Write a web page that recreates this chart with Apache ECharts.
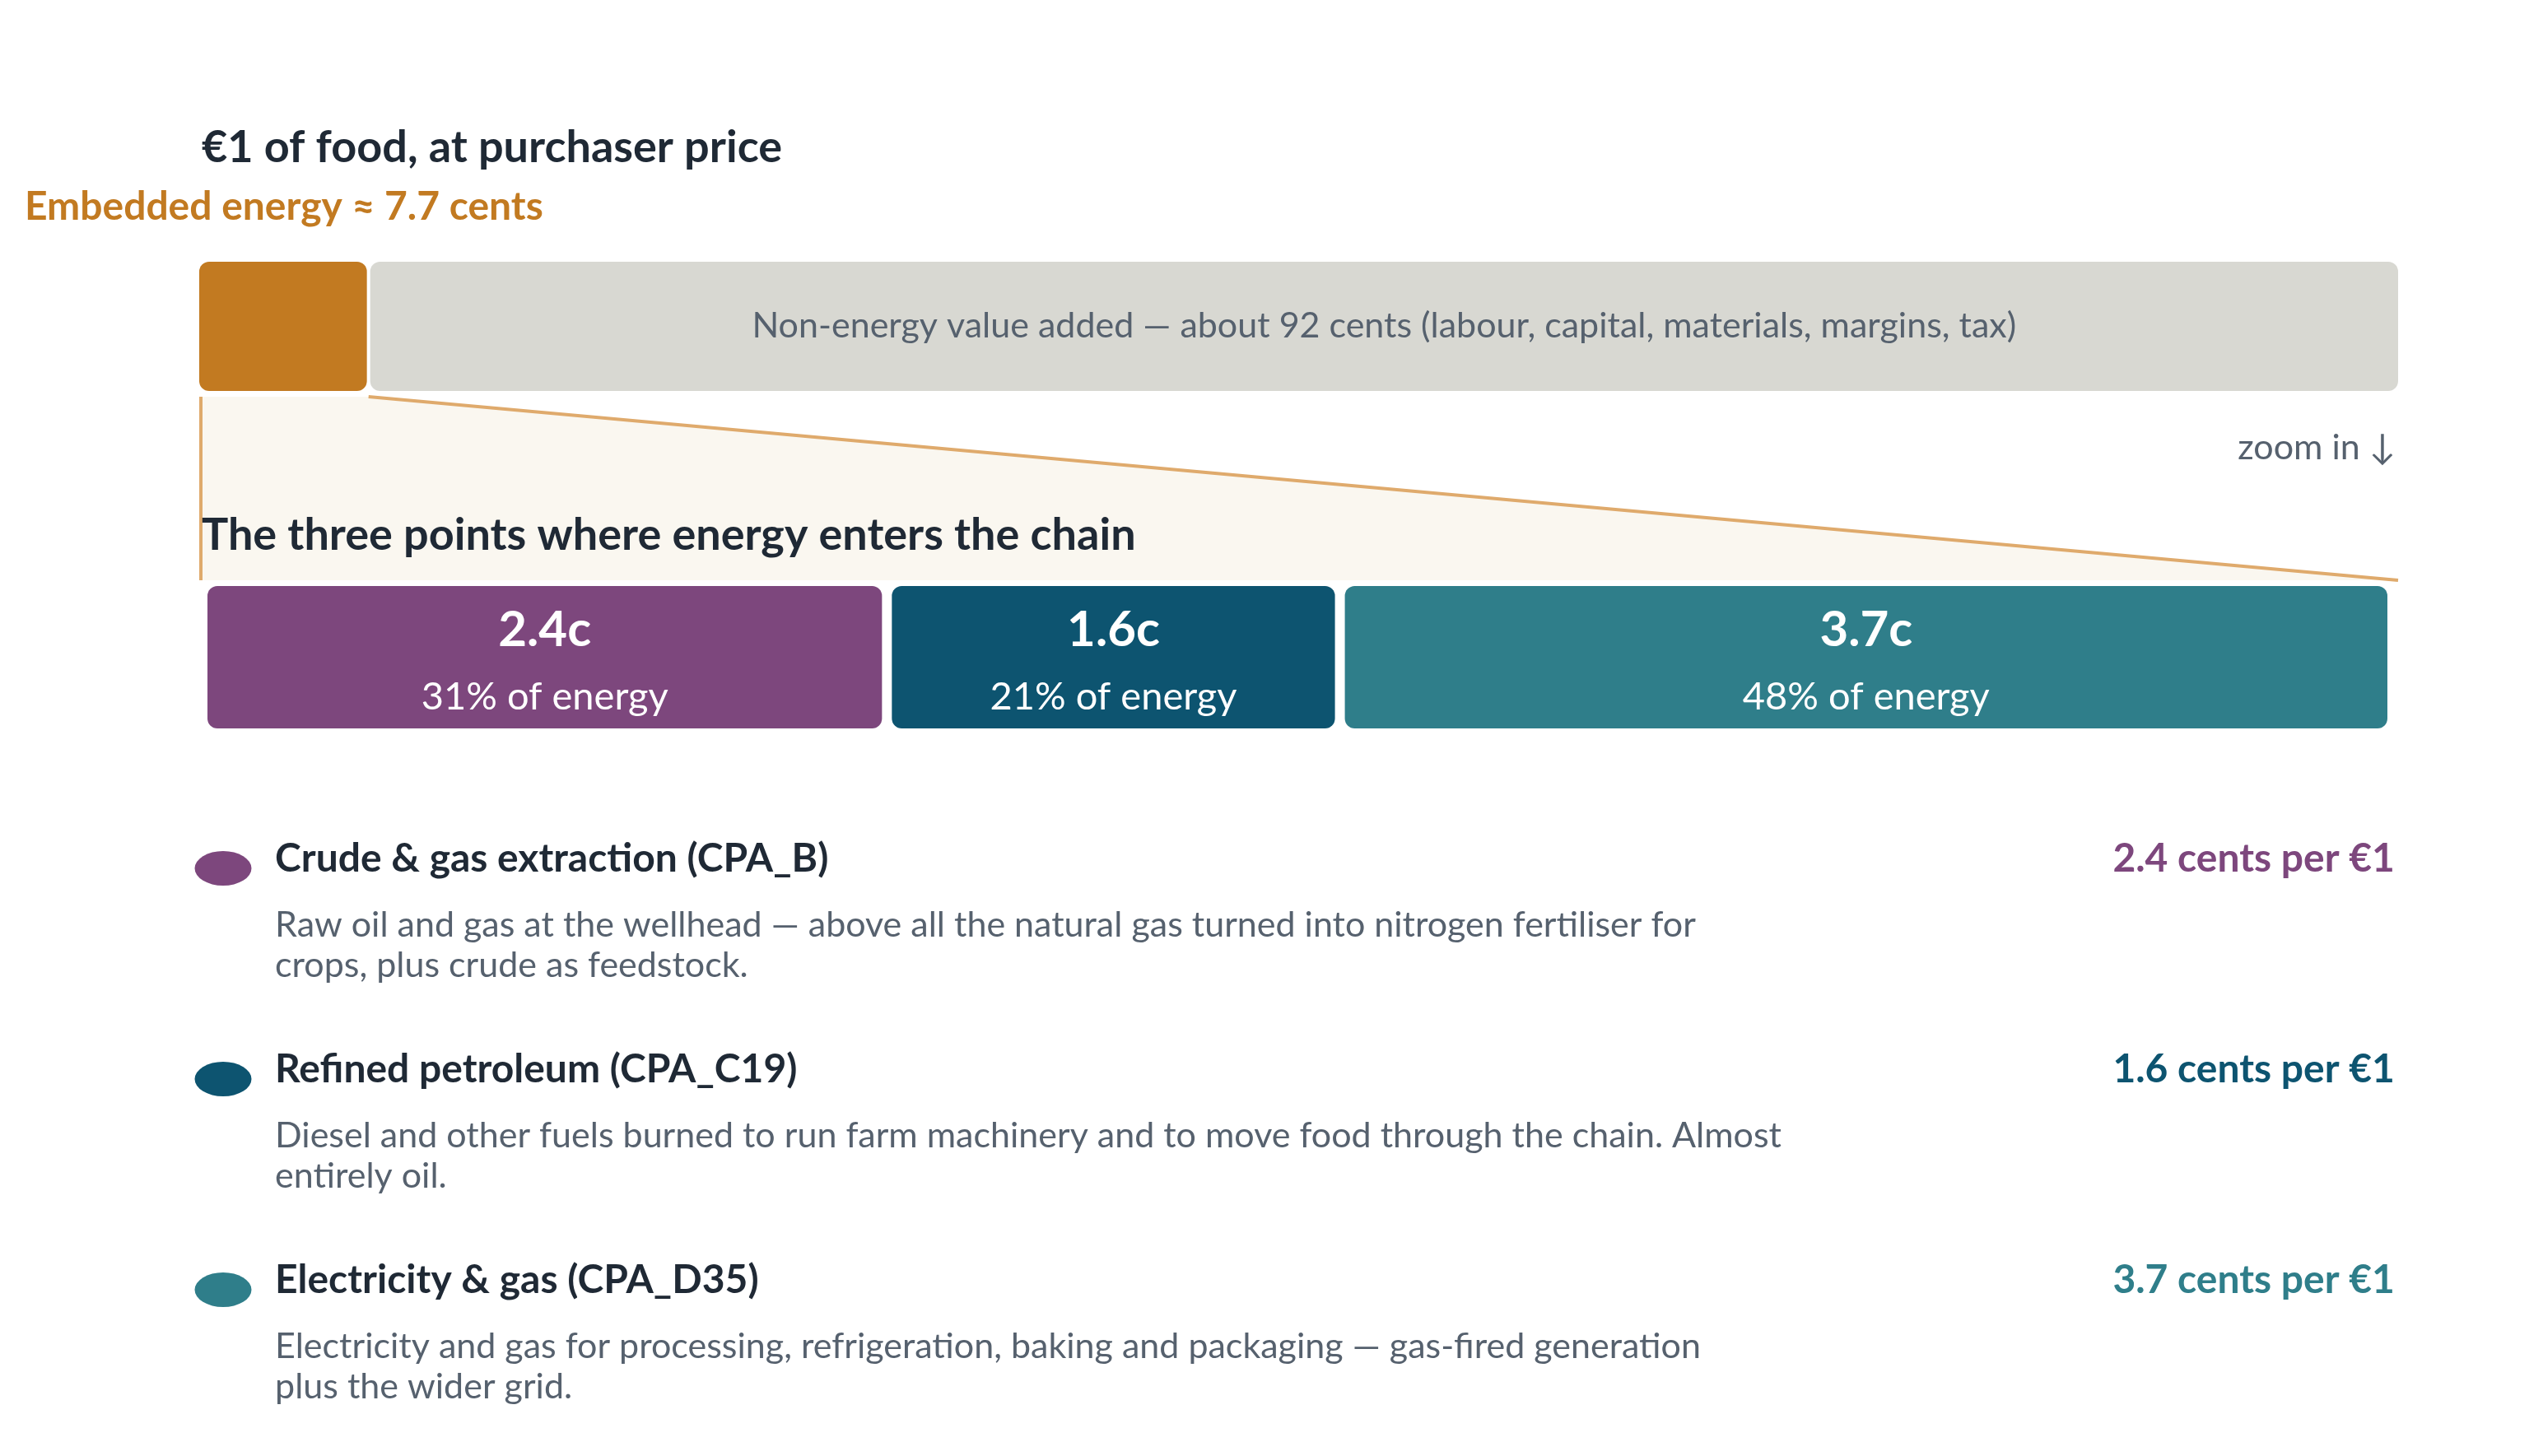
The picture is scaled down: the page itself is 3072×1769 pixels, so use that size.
<!DOCTYPE html>
<html>
<head>
<meta charset="utf-8">
<script src="https://cdn.jsdelivr.net/npm/echarts@6/dist/echarts.min.js"></script>
<style>
html, body { margin: 0; padding: 0; background: #fff; }
#main { width: 3072px; height: 1769px; }
</style>
</head>
<body>
<div id="main"></div>
<script>
// one euro of food, split into energy and everything else
var priceParts = ['Embedded energy', 'Non-energy value added'];
var priceCents = [7.7, 92.3];
var priceNotes = ['', 'Non-energy value added \u2014 about 92 cents (labour, capital, materials, margins, tax)'];

// the three energy inputs
var sourceNames = ['Crude & gas extraction (CPA_B)', 'Refined petroleum (CPA_C19)', 'Electricity & gas (CPA_D35)'];
var sourceCents = [2.4, 1.6, 3.7];
var sourceShares = [31, 21, 48];
var sourceNotes = [
    'Raw oil and gas at the wellhead \u2014 above all the natural gas turned into nitrogen fertiliser for\ncrops, plus crude as feedstock.',
    'Diesel and other fuels burned to run farm machinery and to move food through the chain. Almost\nentirely oil.',
    'Electricity and gas for processing, refrigeration, baking and packaging \u2014 gas-fired generation\nplus the wider grid.'
];

var priceColors = ['#C27A21', '#D8D8D2'];
var sourceColors = ['#7D477D', '#0D5470', '#2F7E8A'];
var FONT = 'Lato, "DejaVu Sans", sans-serif';
var DARK = '#1F2935';
var GREY = '#56616E';

function spans(values) {
    var acc = 0;
    return values.map(function (v, i) {
        var s = acc;
        acc += v;
        return [s, acc, i];
    });
}
function sum(values) {
    return values.reduce(function (a, b) { return a + b; }, 0);
}

var priceTotal = sum(priceCents);
var energyTotal = priceCents[0];

var myChart = echarts.init(document.getElementById('main'));

function renderPrice(params, api) {
    var i = api.value(2);
    var s = api.coord([api.value(0), 0]);
    var e = api.coord([api.value(1), 0]);
    var h = api.size([0, 1])[1];
    var x0 = s[0] + (i > 0 ? 2 : 0);
    var x1 = e[0] - (i < priceCents.length - 1 ? 2 : 0);
    var children = [{
        type: 'rect',
        shape: { x: x0, y: s[1] - h / 2, width: x1 - x0, height: h, r: 12 },
        style: { fill: priceColors[i] }
    }];
    if (priceNotes[i]) {
        children.push({
            type: 'text',
            style: {
                text: priceNotes[i], x: (x0 + x1) / 2, y: s[1],
                align: 'center', verticalAlign: 'middle',
                fill: GREY, fontSize: 43, fontFamily: FONT
            }
        });
    }
    return { type: 'group', children: children };
}

function renderFunnel(params, api) {
    var tl = api.coord([0, 1]);
    var tr = api.coord([api.value(0), 1]);
    var br = api.coord([priceTotal, 0]);
    var bl = api.coord([0, 0]);
    var line = { stroke: '#DFAA6C', lineWidth: 4, fill: null };
    return {
        type: 'group',
        children: [
            { type: 'polygon', shape: { points: [tl, tr, br, bl] }, style: { fill: '#FAF7F0' } },
            { type: 'polyline', shape: { points: [[tl[0] + 2, tl[1]], [bl[0] + 2, bl[1]]] }, style: line },
            { type: 'polyline', shape: { points: [tr, br] }, style: line }
        ]
    };
}

function renderSource(params, api) {
    var i = api.value(2);
    var s = api.coord([api.value(0), 0]);
    var e = api.coord([api.value(1), 0]);
    var h = api.size([0, 1])[1];
    var x0 = s[0] + (i > 0 ? 6 : 0);
    var x1 = e[0] - (i < sourceCents.length - 1 ? 6 : 0);
    var cx = (x0 + x1) / 2;
    return {
        type: 'group',
        children: [
            {
                type: 'rect',
                shape: { x: x0, y: s[1] - h / 2, width: x1 - x0, height: h, r: 12 },
                style: { fill: sourceColors[i] }
            },
            {
                type: 'text',
                style: {
                    text: sourceCents[i].toFixed(1) + 'c', x: cx, y: s[1] - 33,
                    align: 'center', verticalAlign: 'middle',
                    fill: '#fff', fontSize: 60, fontWeight: 'bold', fontFamily: FONT
                }
            },
            {
                type: 'text',
                style: {
                    text: sourceShares[i] + '% of energy', x: cx, y: s[1] + 48,
                    align: 'center', verticalAlign: 'middle',
                    fill: '#fff', fontSize: 47, fontFamily: FONT
                }
            }
        ]
    };
}

var legendPoints = sourceNames.map(function (n, i) { return [0, i]; });
var hidden = { color: 'transparent', opacity: 1 };

option = {
    backgroundColor: '#ffffff',
    animation: false,
    title: [
        {
            text: '\u20ac1 of food, at purchaser price', left: 245, top: 150, padding: 0,
            textStyle: { fontSize: 54, fontWeight: 'bold', color: DARK, fontFamily: FONT, lineHeight: 60 }
        },
        {
            text: 'Embedded energy \u2248 ' + energyTotal + ' cents', left: 30, top: 222, padding: 0,
            textStyle: { fontSize: 48, fontWeight: 'bold', color: priceColors[0], fontFamily: FONT, lineHeight: 60 }
        },
        {
            text: 'zoom in \u2193', right: 162, top: 514, padding: 0,
            textStyle: { fontSize: 43, fontWeight: 'normal', color: GREY, fontFamily: FONT, lineHeight: 60 }
        },
        {
            text: 'The three points where energy enters the chain', left: 245, top: 621, padding: 0,
            textStyle: { fontSize: 54, fontWeight: 'bold', color: DARK, fontFamily: FONT, lineHeight: 60 }
        }
    ],
    grid: [
        { left: 242, right: 159, top: 318, height: 157 },
        { left: 242, right: 159, top: 482, height: 223 },
        { left: 252, right: 172, top: 712, height: 173 },
        { left: 271, right: 163, top: 1055, height: 512 }
    ],
    xAxis: [
        { gridIndex: 0, type: 'value', min: 0, max: priceTotal, show: false },
        { gridIndex: 1, type: 'value', min: 0, max: priceTotal, show: false },
        { gridIndex: 2, type: 'value', min: 0, max: sum(sourceCents), show: false },
        { gridIndex: 3, type: 'value', min: 0, max: 1, show: false }
    ],
    yAxis: [
        { gridIndex: 0, type: 'category', data: ['food'], show: false },
        { gridIndex: 1, type: 'value', min: 0, max: 1, show: false },
        { gridIndex: 2, type: 'category', data: ['energy'], show: false },
        { gridIndex: 3, type: 'category', data: sourceNames, inverse: true, boundaryGap: false, show: false }
    ],
    series: [
        {
            type: 'custom', xAxisIndex: 0, yAxisIndex: 0, silent: true, clip: false,
            renderItem: renderPrice,
            encode: { x: [0, 1], y: 2 },
            data: spans(priceCents)
        },
        {
            type: 'custom', xAxisIndex: 1, yAxisIndex: 1, silent: true, clip: false, z: 1,
            renderItem: renderFunnel,
            data: [[energyTotal]]
        },
        {
            type: 'custom', xAxisIndex: 2, yAxisIndex: 2, silent: true, clip: false, z: 3,
            renderItem: renderSource,
            encode: { x: [0, 1], y: 2 },
            data: spans(sourceCents)
        },
        {
            type: 'scatter', xAxisIndex: 3, yAxisIndex: 3, silent: true,
            symbol: 'circle', symbolSize: [69, 42],
            data: legendPoints.map(function (p, i) {
                return { value: p, itemStyle: { color: sourceColors[i], opacity: 1 } };
            })
        },
        {
            type: 'scatter', xAxisIndex: 3, yAxisIndex: 3, silent: true,
            symbolSize: 0.1, itemStyle: hidden,
            label: {
                show: true, position: 'right', distance: 0, offset: [63, -11],
                formatter: function (p) { return sourceNames[p.dataIndex]; },
                fontSize: 48, fontWeight: 'bold', color: DARK, fontFamily: FONT
            },
            data: legendPoints
        },
        {
            type: 'scatter', xAxisIndex: 3, yAxisIndex: 3, silent: true,
            symbolSize: 0.1, itemStyle: hidden,
            label: {
                show: true, position: 'right', distance: 0, offset: [63, 94],
                formatter: function (p) { return sourceNotes[p.dataIndex]; },
                fontSize: 43, lineHeight: 49, color: GREY, fontFamily: FONT
            },
            data: legendPoints
        },
        {
            type: 'scatter', xAxisIndex: 3, yAxisIndex: 3, silent: true,
            symbolSize: 0.1, itemStyle: hidden,
            label: {
                show: true, position: 'left', distance: 0, offset: [0, -11],
                formatter: function (p) { return sourceCents[p.dataIndex] + ' cents per \u20ac1'; },
                fontSize: 48, fontWeight: 'bold', fontFamily: FONT
            },
            data: sourceNames.map(function (n, i) {
                return { value: [1, i], label: { color: sourceColors[i] } };
            })
        }
    ]
};
myChart.setOption(option);
</script>
</body>
</html>
